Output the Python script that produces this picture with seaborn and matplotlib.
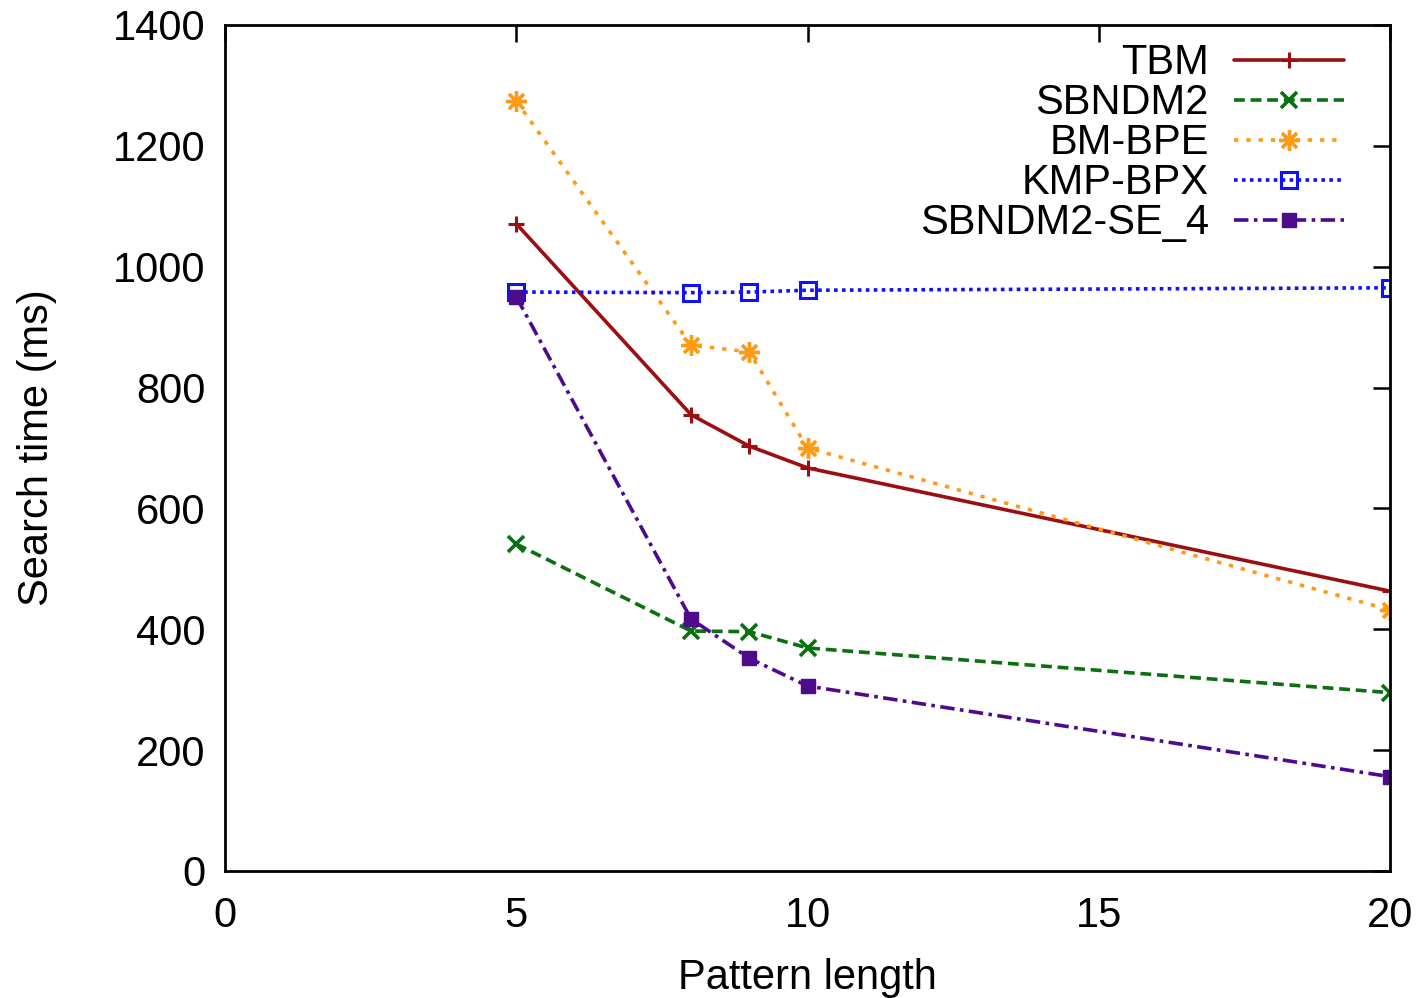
import matplotlib
matplotlib.use("Agg")
import matplotlib.pyplot as plt
import seaborn as sns
import pandas as pd

pattern_length = [5, 8, 9, 10, 20]
tbm = [1071, 755, 703, 667, 463]
sbndm2 = [541, 397, 396, 369, 295]
bm_bpe = [1274, 870, 859, 700, 432]
kmp_bpx = [958, 957, 958, 961, 965]
sbndm2_se4 = [950, 417, 352, 306, 156]

series_names = ["TBM", "SBNDM2", "BM-BPE", "KMP-BPX", "SBNDM2-SE_4"]
series_values = [tbm, sbndm2, bm_bpe, kmp_bpx, sbndm2_se4]
x_ticks = [0, 5, 10, 15, 20]
y_ticks = [0, 200, 400, 600, 800, 1000, 1200, 1400]

sns.set_style("white")
plt.rcParams['font.family'] = ['Liberation Sans', 'DejaVu Sans']
plt.rcParams['text.color'] = 'black'
plt.rcParams['axes.labelcolor'] = 'black'
plt.rcParams['xtick.color'] = 'black'
plt.rcParams['ytick.color'] = 'black'

styles = {
    "TBM": dict(color="#9b0f12", ls="-", marker="+", ms=12, mew=2.2, mfc="#9b0f12"),
    "SBNDM2": dict(color="#0a7010", ls=(0, (3, 1.6)), marker="x", ms=11, mew=2.6, mfc="#0a7010"),
    "BM-BPE": dict(color="#ff9a14", ls=(0, (1.2, 2.2)), marker=(8, 2, 0), ms=15, mew=2.4, mfc="#ff9a14"),
    "KMP-BPX": dict(color="#1010ff", ls=(0, (1, 1.2)), marker="s", ms=11, mew=2.2, mfc="none"),
    "SBNDM2-SE_4": dict(color="#4d0a8c", ls=(0, (4, 1.5, 1, 1.5)), marker="s", ms=10, mew=1, mfc="#4d0a8c"),
}

fig = plt.figure(figsize=(14.26, 9.98), dpi=100)
ax = fig.add_axes([0.1578, 0.1273, 0.8170, 0.8477])

for name, vals in zip(series_names, series_values):
    df = pd.DataFrame({"x": pattern_length, "y": vals})
    st = styles[name]
    sns.lineplot(data=df, x="x", y="y", ax=ax, color=st["color"], label=name,
                 linewidth=2.6, linestyle=st["ls"], marker=st["marker"],
                 markersize=st["ms"], markeredgewidth=st["mew"],
                 markerfacecolor=st["mfc"], markeredgecolor=st["color"])

ax.set_xlim(0, 20)
ax.set_ylim(0, 1400)
ax.set_xticks(x_ticks)
ax.set_yticks(y_ticks)
ax.tick_params(axis="both", which="both", direction="in", length=12, width=1.8,
               top=True, right=True, labelsize=30)
ax.tick_params(axis="x", pad=18)
ax.tick_params(axis="y", pad=14)
for sp in ax.spines.values():
    sp.set_linewidth(2)
    sp.set_color("black")
ax.set_xlabel("Pattern length", fontsize=30, labelpad=16)
ax.set_ylabel("Search time (ms)", fontsize=30, labelpad=40)

leg = ax.legend(loc="upper right", frameon=False, markerfirst=False, fontsize=30,
                handlelength=2.65, handletextpad=0.6, labelspacing=0.0,
                borderaxespad=0.0, bbox_to_anchor=(0.975, 0.998))

fig.savefig("out.png", dpi=100)
